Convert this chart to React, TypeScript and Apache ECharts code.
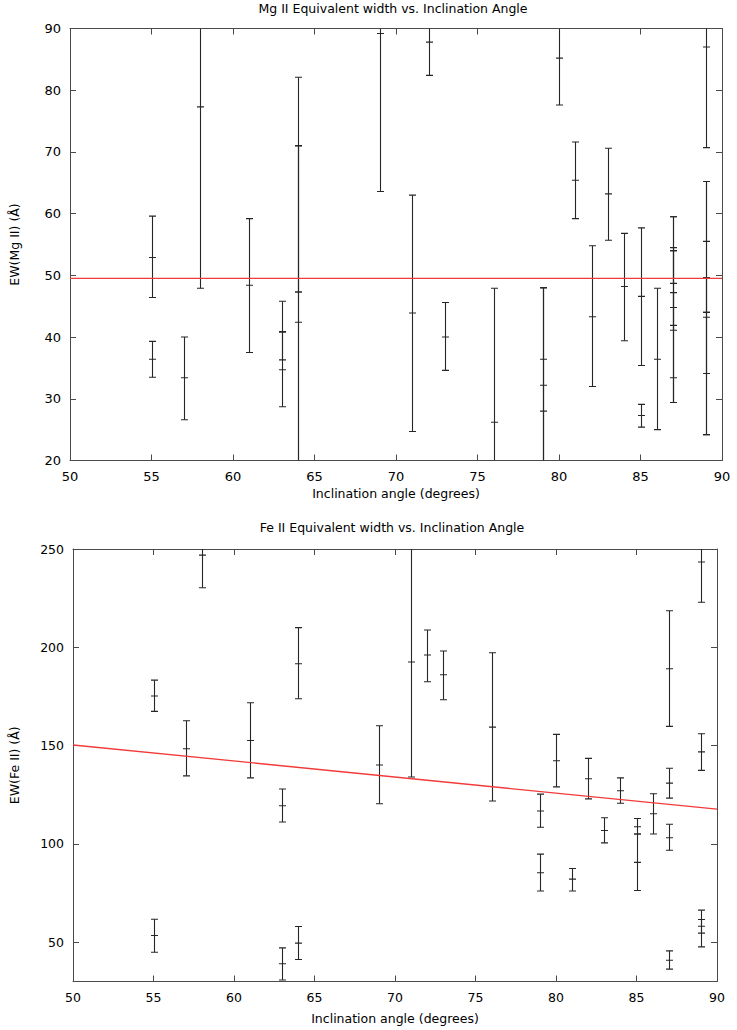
import React, { useEffect, useRef } from "react";
import * as echarts from "echarts";

// ---------- Mg II panel data ----------
const mgAngle = [55, 55, 57, 58, 61, 63, 63, 64, 64, 64, 69, 71, 72, 73, 76, 79, 79, 79, 80, 81, 82, 83, 84, 85, 85, 86, 87, 87, 87, 87, 87, 89, 89, 89, 89, 89];
const mgEW = [52.9, 36.4, 33.4, 77.3, 48.4, 40.9, 34.7, 71.0, 47.3, 42.4, 89.2, 43.9, 87.8, 40.0, 26.2, 36.4, 32.2, 28.0, 85.2, 65.4, 43.3, 63.2, 48.2, 46.6, 27.3, 36.4, 54.0, 49.5, 44.8, 41.9, 33.4, 87.0, 55.5, 49.6, 43.2, 34.1];
const mgLow = [46.4, 33.5, 26.6, 47.9, 37.5, 36.3, 28.7, 47.3, 12.0, 10.0, 63.6, 24.7, 82.4, 34.6, 4.5, 10.0, 16.4, 8.0, 77.6, 59.2, 32.0, 55.7, 39.4, 35.4, 25.4, 25.0, 48.7, 41.1, 29.4, 29.4, 29.4, 70.7, 44.0, 34.1, 24.2, 24.2];
const mgHigh = [59.6, 39.3, 40.0, 106.7, 59.2, 45.8, 40.8, 82.1, 71.0, 71.0, 114.8, 63.0, 93.2, 45.6, 47.9, 48.0, 48.0, 48.0, 92.8, 71.6, 54.8, 70.6, 56.8, 57.7, 29.1, 47.9, 59.5, 54.5, 59.5, 54.0, 47.2, 103.3, 65.2, 65.2, 49.6, 44.0];
const mgFitX = [50, 90];
const mgFitY = [49.5, 49.5];

// ---------- Fe II panel data ----------
const feAngle = [55, 55, 57, 58, 61, 63, 63, 64, 64, 69, 71, 72, 73, 76, 79, 79, 80, 81, 82, 83, 84, 85, 85, 86, 87, 87, 87, 87, 89, 89, 89, 89];
const feEW = [175.2, 53.4, 148.4, 246.9, 152.6, 119.4, 39.0, 191.6, 49.5, 140.1, 192.5, 196.1, 186.0, 159.4, 116.7, 85.3, 142.3, 82.1, 133.1, 106.8, 127.0, 90.6, 108.7, 115.3, 189.1, 130.9, 103.1, 40.8, 243.4, 146.8, 61.5, 58.1];
const feLow = [167.4, 44.9, 134.6, 230.3, 133.6, 111.1, 30.8, 173.8, 41.2, 120.4, 134.0, 182.5, 173.3, 121.8, 108.5, 76.0, 129.0, 76.0, 122.9, 100.5, 120.7, 76.3, 105.0, 105.0, 159.8, 123.3, 96.8, 36.3, 222.9, 137.4, 54.6, 47.6];
const feHigh = [183.3, 61.7, 162.6, 263.5, 171.8, 127.9, 47.1, 210.0, 58.0, 160.1, 255.0, 208.8, 198.1, 197.2, 125.3, 94.8, 155.7, 87.5, 143.5, 113.3, 133.6, 105.0, 112.9, 125.5, 218.6, 138.5, 110.0, 45.6, 263.9, 156.0, 66.3, 61.5];
const feFitX = [50, 90];
const feFitY = [150.3, 117.7];

const xTickInterval = 5;
const mgYTickInterval = 10;
const feYTicks = [50, 100, 150, 200, 250];

const FONT = "'DejaVu Sans', sans-serif";
const AXIS_COLOR = "#4a4a4a";
const BAR_COLOR = "#262626";
const FIT_COLOR = "#f23a3a";

function buildRows(xs: number[], ys: number[], lo: number[], hi: number[]) {
  return xs.map((x, i) => [x, ys[i], lo[i], hi[i]]);
}

function renderErrorBar(params: any, api: any) {
  const x = api.value(0);
  const y = api.value(1);
  const lo = api.value(2);
  const hi = api.value(3);
  const cs = params.coordSys;
  const top = cs.y;
  const bottom = cs.y + cs.height;
  const pc = api.coord([x, y]);
  const pl = api.coord([x, lo]);
  const ph = api.coord([x, hi]);
  const px = Math.round(pc[0]) + 0.5;
  const clamp = (v: number) => Math.max(top, Math.min(bottom, v));
  const style = { stroke: BAR_COLOR, lineWidth: 1.1 };
  const half = 3.5;
  const children: any[] = [
    { type: "line", shape: { x1: px, y1: clamp(ph[1]), x2: px, y2: clamp(pl[1]) }, style },
  ];
  const addTick = (yy: number) => {
    if (yy >= top - 0.5 && yy <= bottom + 0.5) {
      children.push({ type: "line", shape: { x1: px - half, y1: yy, x2: px + half, y2: yy }, style });
    }
  };
  addTick(ph[1]);
  addTick(pl[1]);
  addTick(pc[1]);
  return { type: "group", children };
}

function xAxisPair(gridIndex: number, nameGap: number, fontSize: number) {
  const common = {
    type: "value",
    gridIndex,
    min: 50,
    max: 90,
    interval: xTickInterval,
    splitLine: { show: false },
    axisLine: { show: true, onZero: false, lineStyle: { color: AXIS_COLOR, width: 1 } },
    axisTick: { show: true, inside: true, length: 6, lineStyle: { color: AXIS_COLOR } },
  };
  return [
    {
      ...common,
      position: "bottom",
      axisLabel: { color: "#000", fontSize, fontFamily: FONT, margin: 9 },
      name: "Inclination angle (degrees)",
      nameLocation: "middle",
      nameGap,
      nameTextStyle: { color: "#000", fontSize: 12.5, fontFamily: FONT },
    },
    { ...common, position: "top", axisLabel: { show: false } },
  ];
}

export default function App() {
  const ref = useRef<HTMLDivElement>(null);

  useEffect(() => {
    if (!ref.current) return;
    const chart = echarts.init(ref.current, null, { renderer: "svg" });

    const mgRows = buildRows(mgAngle, mgEW, mgLow, mgHigh);
    const feRows = buildRows(feAngle, feEW, feLow, feHigh);
    const mgFit = mgFitX.map((x, i) => [x, mgFitY[i]]);
    const feFit = feFitX.map((x, i) => [x, feFitY[i]]);

    const yCommon = {
      type: "value",
      splitLine: { show: false },
      axisLine: { show: true, onZero: false, lineStyle: { color: AXIS_COLOR, width: 1 } },
    };

    chart.setOption({
      animation: false,
      backgroundColor: "#ffffff",
      grid: [
        { left: 64, top: 28.5, width: 658, height: 432 },
        { left: 67, top: 549, width: 650, height: 432.5 },
      ],
      xAxis: [...xAxisPair(0, 26, 13), ...xAxisPair(1, 30, 12.5)],
      yAxis: [
        {
          ...yCommon,
          gridIndex: 0,
          position: "left",
          min: 20,
          max: 90,
          interval: mgYTickInterval,
          axisTick: { show: true, inside: true, length: 6, lineStyle: { color: AXIS_COLOR } },
          axisLabel: { color: "#000", fontSize: 13, fontFamily: FONT, margin: 9 },
          name: "EW(Mg II) (Å)",
          nameLocation: "middle",
          nameGap: 49,
          nameTextStyle: { color: "#000", fontSize: 12.5, fontFamily: FONT },
        },
        {
          ...yCommon,
          gridIndex: 0,
          position: "right",
          min: 20,
          max: 90,
          interval: mgYTickInterval,
          axisTick: { show: true, inside: true, length: 6, lineStyle: { color: AXIS_COLOR } },
          axisLabel: { show: false },
        },
        {
          ...yCommon,
          gridIndex: 1,
          position: "left",
          min: 30,
          max: 250,
          axisTick: { show: true, inside: true, length: 6, customValues: feYTicks, lineStyle: { color: AXIS_COLOR } },
          axisLabel: { color: "#000", fontSize: 12.5, fontFamily: FONT, margin: 9, customValues: feYTicks },
          name: "EW(Fe II) (Å)",
          nameLocation: "middle",
          nameGap: 52,
          nameTextStyle: { color: "#000", fontSize: 12.5, fontFamily: FONT },
        },
        {
          ...yCommon,
          gridIndex: 1,
          position: "right",
          min: 30,
          max: 250,
          axisTick: { show: true, inside: true, length: 6, customValues: feYTicks, lineStyle: { color: AXIS_COLOR } },
          axisLabel: { show: false, customValues: feYTicks },
        },
      ],
      graphic: [
        {
          type: "text",
          x: 393,
          y: 8,
          style: {
            text: "Mg II Equivalent width vs. Inclination Angle",
            fill: "#000",
            font: `12.5px ${FONT}`,
            textAlign: "center",
            textVerticalAlign: "middle",
          },
        },
        {
          type: "text",
          x: 392,
          y: 527,
          style: {
            text: "Fe II Equivalent width vs. Inclination Angle",
            fill: "#000",
            font: `12.5px ${FONT}`,
            textAlign: "center",
            textVerticalAlign: "middle",
          },
        },
      ],
      series: [
        {
          type: "custom",
          xAxisIndex: 0,
          yAxisIndex: 0,
          renderItem: renderErrorBar,
          data: mgRows,
          encode: { x: 0, y: 1 },
          clip: true,
          z: 2,
        },
        {
          type: "line",
          xAxisIndex: 0,
          yAxisIndex: 0,
          data: mgFit,
          symbol: "none",
          lineStyle: { color: FIT_COLOR, width: 1.3 },
          z: 3,
        },
        {
          type: "custom",
          xAxisIndex: 2,
          yAxisIndex: 2,
          renderItem: renderErrorBar,
          data: feRows,
          encode: { x: 0, y: 1 },
          clip: true,
          z: 2,
        },
        {
          type: "line",
          xAxisIndex: 2,
          yAxisIndex: 2,
          data: feFit,
          symbol: "none",
          lineStyle: { color: FIT_COLOR, width: 1.3 },
          z: 3,
        },
      ],
    });

    return () => chart.dispose();
  }, []);

  return (
    <div
      ref={ref}
      style={{ position: "absolute", left: 0, top: 0, width: 737, height: 1030, background: "#fff" }}
    />
  );
}
